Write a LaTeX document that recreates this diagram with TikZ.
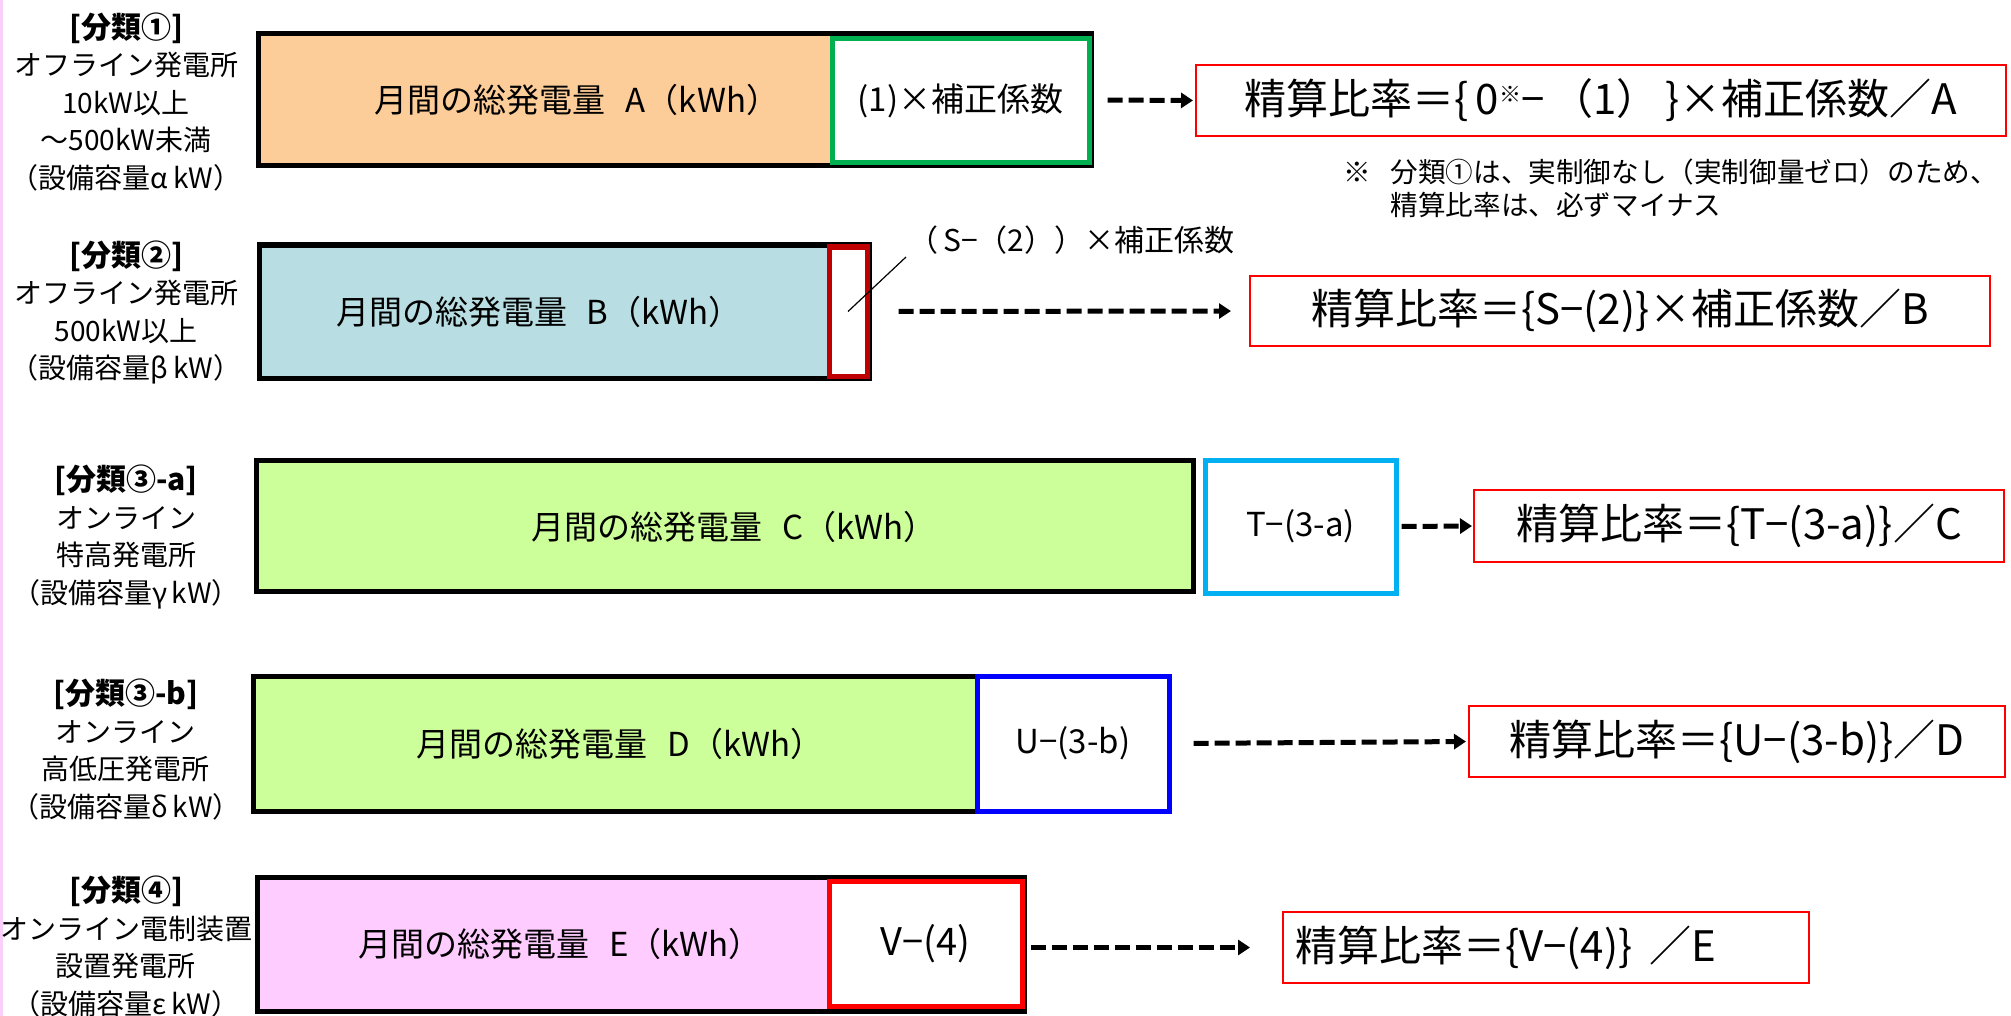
\documentclass[tikz,border=0pt]{standalone}
\usepackage{fontspec}
\setmainfont{Noto Sans CJK JP}
\usepackage{xcolor}
\usetikzlibrary{positioning}
\usetikzlibrary{arrows.meta}
\definecolor{fillA}{RGB}{252,204,153}
\definecolor{fillB}{RGB}{184,221,226}
\definecolor{fillC}{RGB}{204,255,153}
\definecolor{fillE}{RGB}{255,204,255}
\definecolor{lineA}{RGB}{0,176,80}
\definecolor{lineB}{RGB}{192,0,0}
\definecolor{lineC}{RGB}{0,176,240}
\definecolor{lineD}{RGB}{0,0,255}
\definecolor{lineE}{RGB}{255,0,0}
\definecolor{edgepink}{RGB}{250,208,250}
\newcommand\jpsize[2]{\fontsize{#1}{#2}\selectfont}

\begin{document}
\begin{tikzpicture}[x=0.5pt,y=-0.5pt,
  genbar/.style={draw=black,line width=2.5pt,inner sep=0pt},
  corrbox/.style={draw,fill=white,line width=2.5pt,inner sep=0pt,font=\jpsize{16.5pt}{20pt}},
  bartext/.style={font=\jpsize{16.5pt}{20pt}},
  ratebox/.style={draw=red,line width=1pt,inner sep=0pt,font=\jpsize{21pt}{25pt}},
  clslabel/.style={align=center,font=\jpsize{14pt}{18.75pt}},
  remark/.style={align=left,font=\jpsize{13.8pt}{16.5pt}},
  flow/.style={-{Triangle[length=6pt,width=7.5pt]},line width=2.5pt,dash pattern=on 7.5pt off 3pt}]
	\useasboundingbox (0,0) rectangle (2011,1016);
	\fill[edgepink] (0,0) rectangle (3,1016);

	% [1] offline, 10kW - 500kW
	\node[clslabel] (clsA) at (126,102) {\textbf{\jpsize{15pt}{18.75pt}[分類①]}\\オフライン発電所\\10kW以上\\～500kW未満\\（設備容量α\,kW）};
	\node[genbar,fill=fillA,minimum width=416.5pt,minimum height=66pt] (barA) at (674.5,100) {};
	\node[corrbox,draw=lineA,minimum width=128.5pt,minimum height=62pt] (corrA) at (960.5,101) {(1)×補正係数};
	\node[bartext] (txtA) at (577,100) {月間の総発電量\hspace{.6em}A（kWh）};
	\node[ratebox,minimum width=405pt,minimum height=35.5pt] (resA) at (1601,100.5) {精算比率＝\{\,0{\jpsize{11pt}{11pt}\raisebox{6pt}{※}}−\,（1）\,\}×補正係数／A};
	\node[remark,anchor=north west] (noteA) at (1336,152) {※\hspace{10pt}分類①は、実制御なし（実制御量ゼロ）のため、\\\hphantom{※\hspace{10pt}}精算比率は、必ずマイナス};
	\draw[flow,shorten <=7pt,shorten >=1pt] (barA.east) -- (resA.west);

	% [2] offline, 500kW and up
	\node[clslabel] (clsB) at (126,312.5) {\textbf{\jpsize{15pt}{18.75pt}[分類②]}\\オフライン発電所\\500kW以上\\（設備容量β\,kW）};
	\node[genbar,fill=fillB,minimum width=305pt,minimum height=66.5pt] (barB) at (564,311.5) {};
	\node[corrbox,draw=lineB,minimum width=19pt,minimum height=64.5pt] (corrB) at (848,311.5) {};
	\node[bartext] (txtB) at (539,311.5) {月間の総発電量\hspace{.6em}B（kWh）};
	\node[font=\jpsize{15pt}{18pt},anchor=south west,inner sep=1pt] (labB) at (906,257) {（\,S−（2））×補正係数};
	\draw[line width=0.6pt] (corrB.center) -- (labB.south west);
	\node[ratebox,minimum width=370pt,minimum height=35pt] (resB) at (1620,311) {精算比率＝\{S−(2)\}×補正係数／B};
	\draw[flow,shorten <=13.5pt,shorten >=9pt] (barB.east) -- (resB.west);

	% [3-a] online, extra high voltage
	\node[clslabel] (clsC) at (126,537) {\textbf{\jpsize{15pt}{18.75pt}[分類③-a]}\\オンライン\\特高発電所\\（設備容量γ\,kW）};
	\node[genbar,fill=fillC,minimum width=468.5pt,minimum height=65.5pt] (barC) at (724.5,525.5) {};
	\node[corrbox,draw=lineC,minimum width=95.5pt,minimum height=66.5pt] (corrC) at (1300.5,526.5) {T−(3-a)};
	\node[bartext] (txtC) at (734,527) {月間の総発電量\hspace{.6em}C（kWh）};
	\node[ratebox,minimum width=265pt,minimum height=36pt] (resC) at (1739,526) {精算比率＝\{T−(3-a)\}／C};
	\draw[flow,shorten <=1.5pt,shorten >=0.5pt] (corrC.east) -- (resC.west);

	% [3-b] online, high/low voltage
	\node[clslabel] (clsD) at (126,749.5) {\textbf{\jpsize{15pt}{18.75pt}[分類③-b]}\\オンライン\\高低圧発電所\\（設備容量δ\,kW）};
	\node[genbar,fill=fillC,minimum width=458pt,minimum height=67.5pt] (barD) at (711,743.5) {};
	\node[corrbox,draw=lineD,minimum width=96pt,minimum height=67.5pt] (corrD) at (1073,743.5) {U−(3-b)};
	\node[bartext] (txtD) at (620,743.5) {月間の総発電量\hspace{.6em}D（kWh）};
	\node[ratebox,minimum width=268pt,minimum height=35.5pt] (resD) at (1737,741.5) {精算比率＝\{U−(3-b)\}／D};
	\draw[flow,shorten <=11pt,shorten >=1pt] (corrD.east) -- (resD.west);

	% [4] online, with control device
	\node[clslabel] (clsE) at (126,946.5) {\textbf{\jpsize{15pt}{18.75pt}[分類④]}\\オンライン電制装置\\設置発電所\\（設備容量ε\,kW）};
	\node[genbar,fill=fillE,minimum width=383.5pt,minimum height=67pt] (barE) at (640.5,944) {};
	\node[corrbox,draw=lineE,minimum width=96.5pt,minimum height=62.5pt,font=\jpsize{19pt}{22pt}] (corrE) at (925.5,943.5) {V−(4)};
	\node[bartext] (txtE) at (560,944) {月間の総発電量\hspace{.6em}E（kWh）};
	\node[ratebox,minimum height=35.5pt,text width=251pt,inner xsep=6pt,align=left] (resE) at (1546,947.5) {精算比率＝\{V−(4)\}\hspace{.4em}／E};
	\draw[flow,shorten <=2pt,shorten >=16pt] (resE.west -| barE.east) -- (resE.west);
\end{tikzpicture}
\end{document}
